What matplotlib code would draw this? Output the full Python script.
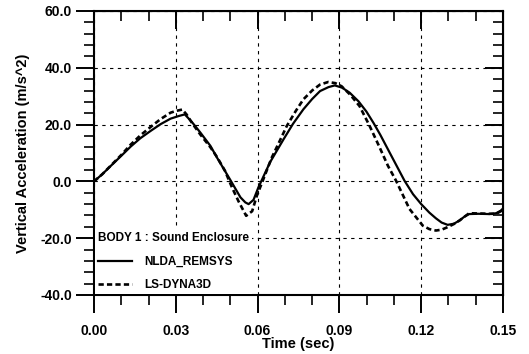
import matplotlib
matplotlib.use("Agg")
import matplotlib.pyplot as plt
from matplotlib.ticker import MultipleLocator, FormatStrFormatter

plt.rcParams['font.family'] = ['Liberation Sans', 'DejaVu Sans']
plt.rcParams['font.weight'] = 'bold'

# NLDA_REMSYS (solid)
t_nlda = [0.0, 0.003, 0.0062, 0.0100, 0.0135, 0.0170, 0.0208, 0.0245, 0.0281, 0.0310,
          0.0333, 0.0360, 0.0390, 0.0427, 0.0451, 0.0500, 0.0537, 0.0555, 0.0567, 0.0585,
          0.0603, 0.0646, 0.0695, 0.0730, 0.0768, 0.0800, 0.0829, 0.0860, 0.0883, 0.0910,
          0.0938, 0.0970, 0.0999, 0.1025, 0.1050, 0.1084, 0.1139, 0.1170, 0.1200, 0.1230,
          0.1254, 0.1275, 0.1297, 0.1320, 0.1340, 0.1360, 0.1376, 0.1410, 0.1449, 0.1475,
          0.1492, 0.1500]
a_nlda = [0.0, 2.5, 5.5, 9.0, 12.3, 15.2, 17.8, 20.2, 22.1, 23.0,
          23.6, 20.8, 17.2, 12.5, 8.4, 0.5, -5.6, -7.4, -8.0, -6.5,
          -2.1, 6.8, 14.8, 20.3, 25.4, 29.0, 31.8, 33.2, 33.8, 33.0,
          31.2, 28.2, 24.6, 20.6, 16.4, 10.2, 0.2, -4.5, -8.0, -11.0,
          -13.0, -14.5, -15.3, -14.9, -13.8, -12.3, -11.5, -11.4, -11.5, -11.2,
          -10.3, -9.5]

# LS-DYNA3D (dashed)
t_dyna = [0.0, 0.003, 0.0062, 0.0100, 0.0135, 0.0170, 0.0208, 0.0245, 0.0281, 0.0300,
          0.0324, 0.0340, 0.0360, 0.0390, 0.0427, 0.0451, 0.0480, 0.0506, 0.0530, 0.0558,
          0.0580, 0.0597, 0.0620, 0.0652, 0.0680, 0.0707, 0.0740, 0.0768, 0.0800, 0.0829,
          0.0859, 0.0885, 0.0908, 0.0940, 0.0974, 0.1011, 0.1045, 0.1078, 0.1108, 0.1157,
          0.1206, 0.1230, 0.1254, 0.1275, 0.1297, 0.1320, 0.1340, 0.1376, 0.1410, 0.1449,
          0.1475, 0.1492, 0.1500]
a_dyna = [0.0, 2.5, 5.6, 9.3, 13.0, 16.2, 19.2, 22.0, 24.2, 24.8,
          25.3, 23.5, 20.5, 16.5, 12.0, 8.6, 3.8, -2.1, -7.0, -12.1,
          -10.5, -5.1, 0.5, 8.4, 14.0, 19.5, 24.8, 28.9, 32.0, 34.1,
          35.0, 34.6, 33.5, 30.5, 26.5, 19.5, 12.5, 5.5, 0.2, -9.7,
          -15.6, -16.8, -17.3, -17.0, -16.1, -15.0, -13.8, -11.2, -11.3, -11.4,
          -11.4, -10.5, -9.7]

fig = plt.figure(figsize=(5.29, 3.54), dpi=100)
ax = fig.add_axes([94/529, 1-295/354, 409/529, 284/354])

ax.plot(t_nlda, a_nlda, color='black', lw=1.6, label='NLDA_REMSYS')
ax.plot(t_dyna, a_dyna, color='black', lw=1.9, ls=(0, (2.0, 1.2)), label='LS-DYNA3D')

ax.set_xlim(0, 0.15)
ax.set_ylim(-40, 60)
ax.xaxis.set_major_locator(MultipleLocator(0.03))
ax.xaxis.set_minor_locator(MultipleLocator(0.01))
ax.yaxis.set_major_locator(MultipleLocator(20))
ax.yaxis.set_minor_locator(MultipleLocator(4))
ax.xaxis.set_major_formatter(FormatStrFormatter('%.2f'))
ax.yaxis.set_major_formatter(FormatStrFormatter('%.1f'))
ax.tick_params(which='major', direction='out', length=13, width=1.4, labelsize=10, pad=3)
ax.tick_params(which='minor', direction='out', length=7, width=1.2)
ax.tick_params(axis='x', pad=8)
for s in ax.spines.values():
    s.set_linewidth(1.5)

# inward ticks on top and right
top = ax.secondary_xaxis('top')
top.xaxis.set_major_locator(MultipleLocator(0.03))
top.xaxis.set_minor_locator(MultipleLocator(0.01))
top.tick_params(which='major', direction='in', length=13, width=1.4, labeltop=False)
top.tick_params(which='minor', direction='in', length=7, width=1.2)
right = ax.secondary_yaxis('right')
right.yaxis.set_major_locator(MultipleLocator(20))
right.yaxis.set_minor_locator(MultipleLocator(4))
right.tick_params(which='major', direction='in', length=13, width=1.4, labelright=False)
right.tick_params(which='minor', direction='in', length=7, width=1.2)

ax.grid(True, which='major', color='black', lw=0.8, ls=(0, (3, 4)))

ax.set_xlabel('Time (sec)', fontsize=10.5, fontweight='bold', labelpad=-1)
ax.set_ylabel('Vertical Acceleration (m/s^2)', fontsize=10.5, fontweight='bold', labelpad=7)

leg = ax.legend(title='BODY 1 : Sound Enclosure', loc='lower left',
                bbox_to_anchor=(0.0, 0.0), frameon=True, fancybox=False,
                edgecolor='none', facecolor='white', framealpha=1,
                prop={'size': 8.5, 'weight': 'bold'}, title_fontproperties={'size': 8.5, 'weight': 'bold'},
                alignment='left', handlelength=2.9, labelspacing=0.95, borderpad=0.25,
                borderaxespad=0.1, handletextpad=1.0)

fig.savefig('out.png', dpi=100)
